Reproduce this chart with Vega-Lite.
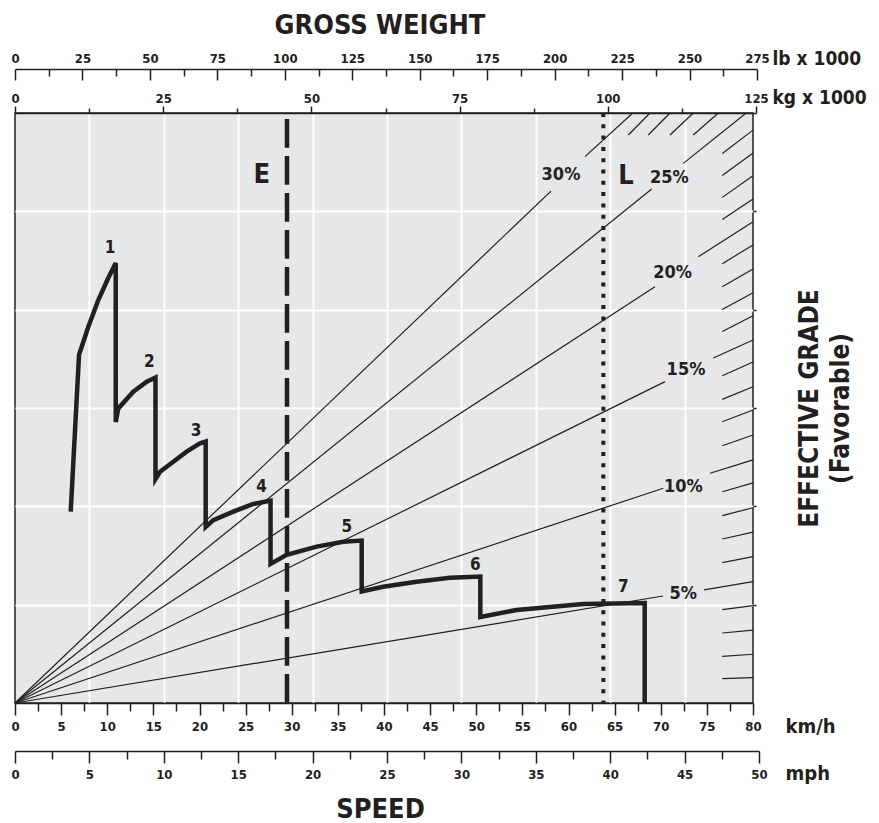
{
  "$schema": "https://vega.github.io/schema/vega-lite/v6.json",
  "width": 738,
  "height": 590,
  "autosize": {"type": "none"},
  "padding": {"left": 15, "top": 113, "right": 126, "bottom": 120},
  "background": "white",
  "title": {"text": "GROSS WEIGHT", "font": "DejaVu Sans Condensed, sans-serif", "fontSize": 27, "fontWeight": "bold", "color": "#231f20", "anchor": "middle", "frame": "group", "dx": -4, "offset": 8},
  "config": {
    "view": {"fill": "#e6e7e8", "stroke": "#231f20", "strokeWidth": 1.5},
    "axis": {
      "labelFont": "DejaVu Sans Condensed, sans-serif",
      "labelFontWeight": "bold",
      "labelFontSize": 13,
      "labelColor": "#231f20",
      "titleFont": "DejaVu Sans Condensed, sans-serif",
      "titleFontWeight": "bold",
      "titleColor": "#231f20",
      "domainColor": "#231f20",
      "domainWidth": 1.5,
      "tickColor": "#231f20",
      "tickWidth": 1.5,
      "labelFlush": false,
      "labelOverlap": false,
      "gridColor": "white",
      "gridWidth": 2,
      "gridOpacity": 1
    },
    "text": {"font": "DejaVu Sans Condensed, sans-serif", "fontWeight": "bold", "color": "#231f20"}
  },
  "resolve": {"scale": {"x": "independent"}, "axis": {"x": "independent", "y": "independent"}},
  "layer": [
    {
      "data": {"values": [
        {"i": 1, "speed_kmh": 6.04, "rimpull": 9.73},
        {"i": 2, "speed_kmh": 6.94, "rimpull": 17.70},
        {"i": 3, "speed_kmh": 7.95, "rimpull": 19.13},
        {"i": 4, "speed_kmh": 9.03, "rimpull": 20.49},
        {"i": 5, "speed_kmh": 10.11, "rimpull": 21.61},
        {"i": 6, "speed_kmh": 10.92, "rimpull": 22.37},
        {"i": 7, "speed_kmh": 10.92, "rimpull": 14.29},
        {"i": 8, "speed_kmh": 11.20, "rimpull": 14.98},
        {"i": 9, "speed_kmh": 12.82, "rimpull": 15.83},
        {"i": 10, "speed_kmh": 14.28, "rimpull": 16.34},
        {"i": 11, "speed_kmh": 15.23, "rimpull": 16.55},
        {"i": 12, "speed_kmh": 15.23, "rimpull": 11.39},
        {"i": 13, "speed_kmh": 15.72, "rimpull": 11.76},
        {"i": 14, "speed_kmh": 17.16, "rimpull": 12.27},
        {"i": 15, "speed_kmh": 18.61, "rimpull": 12.78},
        {"i": 16, "speed_kmh": 20.05, "rimpull": 13.20},
        {"i": 17, "speed_kmh": 20.67, "rimpull": 13.29},
        {"i": 18, "speed_kmh": 20.67, "rimpull": 8.95},
        {"i": 19, "speed_kmh": 21.50, "rimpull": 9.30},
        {"i": 20, "speed_kmh": 23.66, "rimpull": 9.73},
        {"i": 21, "speed_kmh": 25.83, "rimpull": 10.12},
        {"i": 22, "speed_kmh": 27.70, "rimpull": 10.29},
        {"i": 23, "speed_kmh": 27.70, "rimpull": 7.07},
        {"i": 24, "speed_kmh": 29.45, "rimpull": 7.53},
        {"i": 25, "speed_kmh": 32.70, "rimpull": 7.95},
        {"i": 26, "speed_kmh": 35.59, "rimpull": 8.20},
        {"i": 27, "speed_kmh": 37.58, "rimpull": 8.26},
        {"i": 28, "speed_kmh": 37.58, "rimpull": 5.67},
        {"i": 29, "speed_kmh": 39.92, "rimpull": 5.91},
        {"i": 30, "speed_kmh": 43.54, "rimpull": 6.17},
        {"i": 31, "speed_kmh": 47.15, "rimpull": 6.37},
        {"i": 32, "speed_kmh": 50.44, "rimpull": 6.43},
        {"i": 33, "speed_kmh": 50.44, "rimpull": 4.37},
        {"i": 34, "speed_kmh": 54.38, "rimpull": 4.73},
        {"i": 35, "speed_kmh": 61.60, "rimpull": 5.03},
        {"i": 36, "speed_kmh": 68.26, "rimpull": 5.08},
        {"i": 37, "speed_kmh": 68.26, "rimpull": 0}
      ]},
      "encoding": {
        "x": {
          "field": "speed_kmh", "type": "quantitative",
          "scale": {"domain": [0, 80], "range": [0, 738], "nice": false, "zero": false},
          "axis": {
            "orient": "bottom",
            "values": [0,2.5,5,7.5,10,12.5,15,17.5,20,22.5,25,27.5,30,32.5,35,37.5,40,42.5,45,47.5,50,52.5,55,57.5,60,62.5,65,67.5,70,72.5,75,77.5,80],
            "labelExpr": "datum.value % 5 === 0 ? datum.label : ''",
            "tickSize": {"condition": {"test": "datum.value % 5 === 0", "value": 12}, "value": 8},
            "labelPadding": 5.5,
            "grid": false,
            "title": "km/h",
            "titleX": 770,
            "titleY": 29,
            "titleAlign": "left",
            "titleAnchor": null,
            "titleBaseline": "alphabetic",
            "titleFontSize": 20
          }
        },
        "y": {
          "field": "rimpull", "type": "quantitative",
          "scale": {"domain": [0, 30], "nice": false},
          "axis": {"orient": "left", "values": [5, 10, 15, 20, 25], "grid": true, "ticks": false, "labels": false, "domain": false, "title": null}
        }
      },
      "layer": [
        {
          "mark": {"type": "line", "strokeWidth": 4.5, "color": "#231f20", "strokeJoin": "miter", "strokeCap": "butt"},
          "encoding": {"order": {"field": "i", "type": "quantitative"}}
        },
        {
          "data": {"values": [
            {"gear": "1", "speed_kmh": 10.30, "rimpull": 23.12},
            {"gear": "2", "speed_kmh": 14.56, "rimpull": 17.35},
            {"gear": "3", "speed_kmh": 19.62, "rimpull": 13.85},
            {"gear": "4", "speed_kmh": 26.74, "rimpull": 10.97},
            {"gear": "5", "speed_kmh": 35.96, "rimpull": 8.96},
            {"gear": "6", "speed_kmh": 49.90, "rimpull": 7.02},
            {"gear": "7", "speed_kmh": 65.94, "rimpull": 5.91}
          ]},
          "mark": {"type": "text", "fontSize": 17},
          "encoding": {"text": {"field": "gear"}}
        }
      ]
    },
    {
      "data": {"values": [
        {"grade": 30, "weight_kg": 0, "rimpull": 0, "weight_kg_end": 90.42, "rimpull_end": 26.03},
        {"grade": 30, "weight_kg": 96.15, "rimpull": 27.78, "weight_kg_end": 104.03, "rimpull_end": 29.95},
        {"grade": 25, "weight_kg": 0, "rimpull": 0, "weight_kg_end": 107.41, "rimpull_end": 26.14},
        {"grade": 25, "weight_kg": 112.74, "rimpull": 27.44, "weight_kg_end": 123.14, "rimpull_end": 29.95},
        {"grade": 20, "weight_kg": 0, "rimpull": 0, "weight_kg_end": 107.96, "rimpull_end": 21.17},
        {"grade": 20, "weight_kg": 115.27, "rimpull": 22.69, "weight_kg_end": 124.5, "rimpull_end": 24.47},
        {"grade": 15, "weight_kg": 0, "rimpull": 0, "weight_kg_end": 109.65, "rimpull_end": 16.34},
        {"grade": 15, "weight_kg": 117.80, "rimpull": 17.54, "weight_kg_end": 124.5, "rimpull_end": 18.46},
        {"grade": 10, "weight_kg": 0, "rimpull": 0, "weight_kg_end": 109.36, "rimpull_end": 10.92},
        {"grade": 10, "weight_kg": 117.24, "rimpull": 11.68, "weight_kg_end": 124.5, "rimpull_end": 12.36},
        {"grade": 5, "weight_kg": 0, "rimpull": 0, "weight_kg_end": 109.31, "rimpull_end": 5.44},
        {"grade": 5, "weight_kg": 116.23, "rimpull": 5.75, "weight_kg_end": 124.5, "rimpull_end": 6.17},
        {"grade": 29, "weight_kg": 103.46, "rimpull": 28.88, "weight_kg_end": 107.12, "rimpull_end": 30},
        {"grade": 28, "weight_kg": 106.83, "rimpull": 28.88, "weight_kg_end": 110.49, "rimpull_end": 30},
        {"grade": 27, "weight_kg": 110.49, "rimpull": 28.88, "weight_kg_end": 114.42, "rimpull_end": 30},
        {"grade": 26, "weight_kg": 114.42, "rimpull": 28.88, "weight_kg_end": 118.64, "rimpull_end": 30},
        {"grade": 1, "weight_kg": 119.31, "rimpull": 1.24, "weight_kg_end": 124.5, "rimpull_end": 1.29},
        {"grade": 2, "weight_kg": 119.31, "rimpull": 2.37, "weight_kg_end": 124.5, "rimpull_end": 2.48},
        {"grade": 3, "weight_kg": 119.31, "rimpull": 3.56, "weight_kg_end": 124.5, "rimpull_end": 3.71},
        {"grade": 4, "weight_kg": 119.31, "rimpull": 4.75, "weight_kg_end": 124.5, "rimpull_end": 4.95},
        {"grade": 6, "weight_kg": 119.31, "rimpull": 7.14, "weight_kg_end": 124.5, "rimpull_end": 7.44},
        {"grade": 7, "weight_kg": 119.31, "rimpull": 8.34, "weight_kg_end": 124.5, "rimpull_end": 8.69},
        {"grade": 8, "weight_kg": 119.31, "rimpull": 9.53, "weight_kg_end": 124.5, "rimpull_end": 9.93},
        {"grade": 9, "weight_kg": 119.31, "rimpull": 10.74, "weight_kg_end": 124.5, "rimpull_end": 11.19},
        {"grade": 11, "weight_kg": 119.31, "rimpull": 13.08, "weight_kg_end": 124.5, "rimpull_end": 13.63},
        {"grade": 12, "weight_kg": 119.31, "rimpull": 14.30, "weight_kg_end": 124.5, "rimpull_end": 14.90},
        {"grade": 13, "weight_kg": 119.31, "rimpull": 15.44, "weight_kg_end": 124.5, "rimpull_end": 16.08},
        {"grade": 14, "weight_kg": 119.31, "rimpull": 16.64, "weight_kg_end": 124.5, "rimpull_end": 17.34},
        {"grade": 16, "weight_kg": 119.31, "rimpull": 18.89, "weight_kg_end": 124.5, "rimpull_end": 19.69},
        {"grade": 17, "weight_kg": 119.31, "rimpull": 20.01, "weight_kg_end": 124.5, "rimpull_end": 20.86},
        {"grade": 18, "weight_kg": 119.31, "rimpull": 21.17, "weight_kg_end": 124.5, "rimpull_end": 22.07},
        {"grade": 19, "weight_kg": 119.31, "rimpull": 22.34, "weight_kg_end": 124.5, "rimpull_end": 23.29},
        {"grade": 21, "weight_kg": 119.31, "rimpull": 24.58, "weight_kg_end": 124.5, "rimpull_end": 25.63},
        {"grade": 22, "weight_kg": 119.31, "rimpull": 25.71, "weight_kg_end": 124.5, "rimpull_end": 26.81},
        {"grade": 23, "weight_kg": 119.31, "rimpull": 26.82, "weight_kg_end": 124.5, "rimpull_end": 27.97},
        {"grade": 24, "weight_kg": 119.31, "rimpull": 27.94, "weight_kg_end": 124.5, "rimpull_end": 29.13}
      ]},
      "encoding": {
        "x": {
          "field": "weight_kg", "type": "quantitative",
          "scale": {"domain": [0, 125], "range": [0, 741], "nice": false, "zero": false},
          "axis": {
            "orient": "top",
            "values": [0,12.5,25,37.5,50,62.5,75,87.5,100,112.5,125],
            "labelExpr": "datum.value % 25 === 0 ? datum.label : ''",
            "tickSize": {"condition": {"test": "datum.value % 25 === 0", "value": 7}, "value": 5},
            "labelPadding": 1,
            "grid": false,
            "title": "kg x 1000",
            "titleX": 757,
            "titleY": -10,
            "titleAlign": "left",
            "titleAnchor": null,
            "titleBaseline": "alphabetic",
            "titleFontSize": 19
          }
        },
        "y": {
          "field": "rimpull", "type": "quantitative",
          "scale": {"domain": [0, 30], "nice": false},
          "axis": {
            "orient": "right",
            "values": [5, 10, 15, 20, 25],
            "grid": false,
            "ticks": true,
            "tickSize": 3,
            "labels": false,
            "domain": false,
            "title": ["EFFECTIVE GRADE", "(Favorable)"],
            "titleAngle": 270,
            "titleX": 64,
            "titleY": 295,
            "titleAlign": "center",
            "titleBaseline": "alphabetic",
            "titleFontSize": 26,
            "titleLineHeight": 31
          }
        }
      },
      "layer": [
        {
          "mark": {"type": "rule", "strokeWidth": 1.2, "color": "#231f20"},
          "encoding": {"x2": {"field": "weight_kg_end"}, "y2": {"field": "rimpull_end"}}
        },
        {
          "data": {"values": [
            {"label": "30%", "weight_kg": 92.10, "rimpull": 26.85},
            {"label": "25%", "weight_kg": 110.38, "rimpull": 26.68},
            {"label": "20%", "weight_kg": 110.95, "rimpull": 21.85},
            {"label": "15%", "weight_kg": 113.19, "rimpull": 16.93},
            {"label": "10%", "weight_kg": 112.74, "rimpull": 10.97},
            {"label": "5%", "weight_kg": 112.74, "rimpull": 5.53}
          ]},
          "mark": {"type": "text", "fontSize": 18},
          "encoding": {"text": {"field": "label"}}
        }
      ]
    },
    {
      "data": {"values": [
        {"marker": "E", "speed_mph": 18.28, "rimpull": 29.69, "rimpull_end": 0},
        {"marker": "L", "speed_mph": 39.54, "rimpull": 30, "rimpull_end": 0}
      ]},
      "encoding": {
        "x": {
          "field": "speed_mph", "type": "quantitative",
          "scale": {"domain": [0, 50], "range": [0, 744], "nice": false, "zero": false},
          "axis": {
            "orient": "bottom",
            "offset": 48,
            "values": [0,2.5,5,7.5,10,12.5,15,17.5,20,22.5,25,27.5,30,32.5,35,37.5,40,42.5,45,47.5,50],
            "labelExpr": "datum.value % 5 === 0 ? datum.label : ''",
            "tickSize": {"condition": {"test": "datum.value % 5 === 0", "value": 12}, "value": 8},
            "labelPadding": 5.5,
            "grid": true,
            "gridOpacity": {"condition": {"test": "datum.value % 5 === 0 && datum.value > 0 && datum.value < 50", "value": 1}, "value": 0},
            "title": "mph",
            "titleX": 770,
            "titleY": 28,
            "titleAlign": "left",
            "titleAnchor": null,
            "titleBaseline": "alphabetic",
            "titleFontSize": 20
          }
        },
        "y": {"field": "rimpull", "type": "quantitative", "scale": {"domain": [0, 30], "nice": false}, "axis": null}
      },
      "layer": [
        {
          "transform": [{"filter": "datum.marker === 'E'"}],
          "mark": {"type": "rule", "strokeWidth": 4.5, "strokeDash": [28.7, 8.3], "strokeCap": "butt", "color": "#231f20"},
          "encoding": {"y2": {"field": "rimpull_end"}}
        },
        {
          "transform": [{"filter": "datum.marker === 'L'"}],
          "mark": {"type": "rule", "strokeWidth": 4, "strokeDash": [4, 7.3], "strokeCap": "butt", "color": "#231f20"},
          "encoding": {"y2": {"field": "rimpull_end"}}
        },
        {
          "data": {"values": [
            {"marker": "E", "speed_mph": 16.58, "rimpull": 26.85},
            {"marker": "L", "speed_mph": 41.06, "rimpull": 26.80}
          ]},
          "mark": {"type": "text", "fontSize": 27},
          "encoding": {"text": {"field": "marker"}}
        }
      ]
    },
    {
      "data": {"values": []},
      "mark": {"type": "point", "opacity": 0},
      "encoding": {
        "x": {
          "field": "weight_lb", "type": "quantitative",
          "scale": {"domain": [0, 275], "range": [0, 742], "nice": false, "zero": false},
          "axis": {
            "orient": "top",
            "offset": 44,
            "values": [0,12.5,25,37.5,50,62.5,75,87.5,100,112.5,125,137.5,150,162.5,175,187.5,200,212.5,225,237.5,250,262.5,275],
            "labelExpr": "datum.value % 25 === 0 ? datum.label : ''",
            "tickSize": {"condition": {"test": "datum.value % 25 === 0", "value": -11}, "value": -7},
            "labelPadding": 15,
            "grid": false,
            "title": "lb x 1000",
            "titleX": 757,
            "titleY": -5,
            "titleAlign": "left",
            "titleAnchor": null,
            "titleBaseline": "alphabetic",
            "titleFontSize": 19
          }
        }
      }
    },
    {
      "data": {"values": []},
      "mark": {"type": "point", "opacity": 0},
      "encoding": {
        "x": {
          "field": "speed_title", "type": "quantitative",
          "scale": {"domain": [0, 1], "range": [0, 738], "nice": false, "zero": false},
          "axis": {
            "orient": "bottom",
            "offset": 48,
            "domain": false,
            "ticks": false,
            "labels": false,
            "grid": false,
            "title": "SPEED",
            "titleX": 365,
            "titleY": 66,
            "titleAlign": "center",
            "titleAnchor": null,
            "titleBaseline": "alphabetic",
            "titleFontSize": 27
          }
        }
      }
    }
  ]
}
